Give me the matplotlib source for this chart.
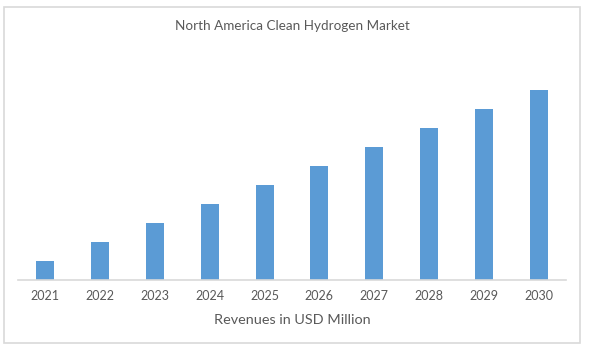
import matplotlib
matplotlib.use("Agg")
import matplotlib.pyplot as plt
from matplotlib.patches import Rectangle

years = ["2021", "2022", "2023", "2024", "2025", "2026", "2027", "2028", "2029", "2030"]
revenues = [19, 38, 57, 76, 95, 114, 133, 152, 171, 190]

W, H = 592, 351
fig = plt.figure(figsize=(W / 100, H / 100), dpi=100)
fig.patch.set_facecolor("white")
plt.rcParams['font.family'] = ['Lato', 'DejaVu Sans']

# outer border
fig.patches.append(Rectangle((4 / W, 1 - 343 / H), 576 / W, 336 / H, transform=fig.transFigure,
                             fill=False, edgecolor="#D9D9D9", linewidth=1.2))

ax = fig.add_axes([18 / W, 1 - 280 / H, 548 / W, 220 / H])
x = list(range(len(years)))
ax.bar(x, revenues, width=0.33, color="#5B9BD5")
ax.set_xlim(-0.5, len(years) - 0.5)
ax.set_ylim(0, 220)
ax.set_yticks([])
for s in ["top", "right", "left"]:
    ax.spines[s].set_visible(False)
ax.spines["bottom"].set_color("#D9D9D9")
ax.spines["bottom"].set_linewidth(1.2)
ax.set_xticks(x)
ax.set_xticklabels(years, fontsize=9, color="#595959")
ax.tick_params(axis="x", length=0, pad=7.5)
ax.set_xlabel("Revenues in USD Million", fontsize=10.4, color="#595959", labelpad=8)

fig.text(292 / W, 1 - 26 / H, "North America Clean Hydrogen Market", ha="center", va="center",
         fontsize=9.7, color="#595959")

fig.savefig("out.png", dpi=100)
